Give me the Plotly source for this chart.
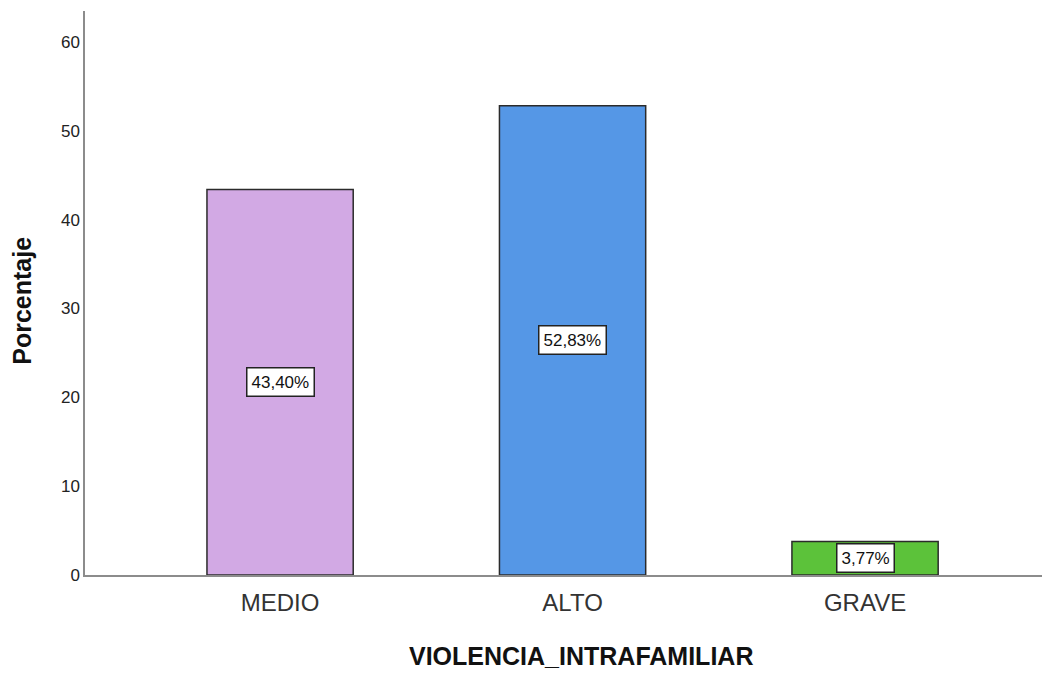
import plotly.graph_objects as go

categories = ["MEDIO", "ALTO", "GRAVE"]
percentages = [43.40, 52.83, 3.77]
labels = ["43,40%", "52,83%", "3,77%"]
bar_colors = ["#d2a9e4", "#5597e6", "#5cc23a"]
y_ticks = [0, 10, 20, 30, 40, 50, 60]

FONT = "Liberation Sans, Arial"

fig = go.Figure()
fig.add_trace(
    go.Bar(
        x=categories,
        y=percentages,
        width=0.5,
        marker=dict(color=bar_colors, line=dict(color="#2b2b2b", width=1.5)),
        hoverinfo="skip",
    )
)

for cat, val, lab in zip(categories, percentages, labels):
    fig.add_annotation(
        x=cat,
        y=val / 2,
        text=lab,
        showarrow=False,
        font=dict(family=FONT, size=17, color="#111111"),
        bgcolor="white",
        bordercolor="#222222",
        borderwidth=1.5,
        borderpad=4,
    )

# axis titles as paper annotations (the originals sit slightly off-centre)
fig.add_annotation(
    text="<b>VIOLENCIA_INTRAFAMILIAR</b>",
    xref="paper", yref="paper",
    x=0.518, y=-0.1436,
    xanchor="center", yanchor="middle",
    showarrow=False,
    font=dict(family=FONT, size=25, color="#111111"),
)
fig.add_annotation(
    text="<b>Porcentaje</b>",
    xref="paper", yref="paper",
    x=-0.066, y=0.486,
    xanchor="center", yanchor="middle",
    textangle=-90,
    showarrow=False,
    font=dict(family=FONT, size=25, color="#111111"),
)

fig.update_layout(
    width=1034,
    height=663,
    plot_bgcolor="white",
    paper_bgcolor="white",
    showlegend=False,
    margin=dict(l=77, r=0, t=3, b=96),
    font=dict(family=FONT, color="#222222"),
    xaxis=dict(
        type="category",
        range=[-0.667, 2.605],
        showline=True,
        linecolor="#8c8c8c",
        linewidth=1.5,
        showgrid=False,
        ticks="",
        ticklabelstandoff=5,
        tickfont=dict(size=24, color="#333333"),
    ),
    yaxis=dict(
        range=[0, 63.5],
        tickvals=y_ticks,
        showline=True,
        linecolor="#8c8c8c",
        linewidth=1.5,
        showgrid=False,
        zeroline=False,
        ticks="",
        ticklen=0,
        tickfont=dict(size=17, color="#222222"),
    ),
)

fig.write_html("out.html")
